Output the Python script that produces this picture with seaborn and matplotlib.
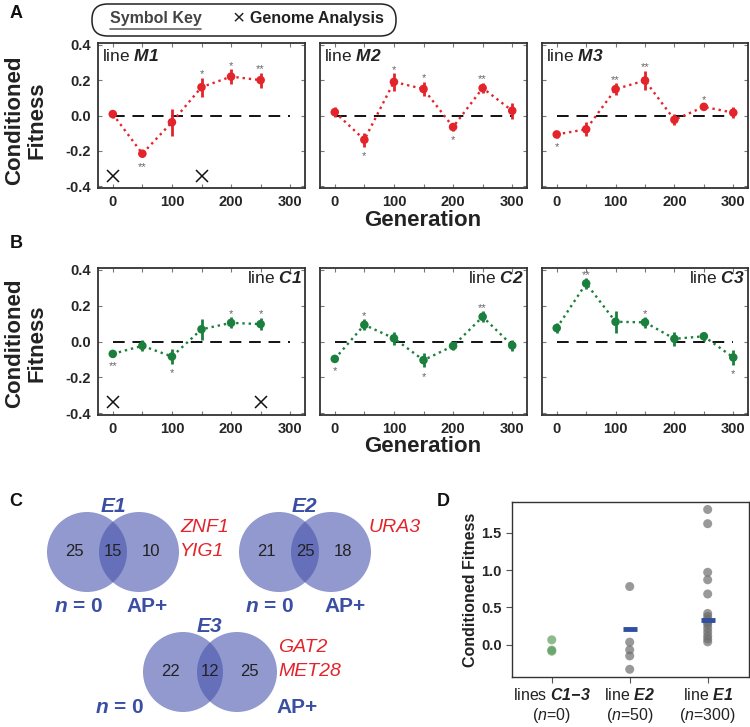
import matplotlib

matplotlib.use("Agg")
import matplotlib.pyplot as plt
import numpy as np
import pandas as pd
import seaborn as sns
from matplotlib.lines import Line2D
from matplotlib.patches import Circle, FancyBboxPatch


# panels A and B: conditioned fitness across generations
GENERATIONS = [0, 50, 100, 150, 200, 250, 300]

M1_FIT = [0.008, -0.216, -0.038, 0.160, 0.220, 0.200, np.nan]
M1_ERR = [0.020, 0.020, 0.076, 0.053, 0.043, 0.043, np.nan]
M1_SIG = ["", "**", "", "*", "*", "**", ""]
M2_FIT = [0.019, -0.137, 0.190, 0.150, -0.065, 0.155, 0.027]
M2_ERR = [0.030, 0.040, 0.050, 0.040, 0.020, 0.030, 0.045]
M2_SIG = ["", "*", "*", "*", "*", "**", ""]
M3_FIT = [-0.107, -0.078, 0.149, 0.198, -0.024, 0.049, 0.016]
M3_ERR = [0.020, 0.040, 0.035, 0.055, 0.030, 0.020, 0.030]
M3_SIG = ["*", "", "**", "**", "", "*", ""]

C1_FIT = [-0.069, -0.024, -0.084, 0.068, 0.104, 0.097, np.nan]
C1_ERR = [0.015, 0.030, 0.040, 0.057, 0.030, 0.035, np.nan]
C1_SIG = ["**", "", "*", "", "*", "*", ""]
C2_FIT = [-0.097, 0.093, 0.018, -0.104, -0.025, 0.138, -0.022]
C2_ERR = [0.015, 0.030, 0.035, 0.040, 0.025, 0.030, 0.030]
C2_SIG = ["*", "*", "", "*", "", "**", ""]
C3_FIT = [0.075, 0.324, 0.110, 0.107, 0.015, 0.029, -0.089]
C3_ERR = [0.030, 0.030, 0.060, 0.030, 0.040, 0.025, 0.040]
C3_SIG = ["", "**", "", "*", "", "", "*"]

M1_GENOME = [0, 150]
C1_GENOME = [0, 250]
GENOME_MARK_Y = -0.34

# panel C: venn counts
VENN_NAMES = ["E1", "E2", "E3"]
VENN_LEFT = [25, 21, 22]
VENN_SHARED = [15, 25, 12]
VENN_RIGHT = [10, 18, 25]
VENN_GENES = [["ZNF1", "YIG1"], ["URA3"], ["GAT2", "MET28"]]

# panel D: conditioned fitness of evolved lines
D_GROUPS = ["C1-3", "E2", "E1"]
D_C13 = [0.067, -0.070, -0.085]
D_E2 = [0.780, 0.036, -0.067, -0.148, -0.327]
D_E1 = [1.81, 1.62, 0.97, 0.87, 0.68, 0.42, 0.38, 0.34, 0.30, 0.27,
        0.22, 0.17, 0.12, 0.08, 0.04]
D_MEANS = [np.nan, 0.215, 0.330]

RED = "#e3242b"
GREEN = "#1b7f3e"
BLUE = "#3a4fa3"
W, H = 750, 727

sns.set_theme(style="ticks")
plt.rcParams["font.family"] = ["Liberation Sans", "DejaVu Sans"]
plt.rcParams["mathtext.fontset"] = "custom"
plt.rcParams["mathtext.rm"] = "Liberation Sans"
plt.rcParams["mathtext.it"] = "Liberation Sans:italic"
plt.rcParams["mathtext.bf"] = "Liberation Sans:bold:italic"


def px_rect(left, top, right, bottom):
    return [left / W, 1 - bottom / H, (right - left) / W, (bottom - top) / H]


def draw_line_panel(ax, title, fit, err, sig, color, genome, title_right, show_y):
    frame = pd.DataFrame({"generation": GENERATIONS, "fitness": fit,
                          "err": err, "sig": sig}).dropna()
    ax.hlines(0, 0, 300, colors="#111111", linestyles=(0, (6, 4)), lw=1.4, zorder=1)
    sns.lineplot(data=frame, x="generation", y="fitness", ax=ax, color=color,
                 lw=1.7, linestyle=":", zorder=2)
    ax.errorbar(frame["generation"], frame["fitness"], yerr=frame["err"],
                fmt="none", ecolor=color, elinewidth=2, zorder=3)
    sns.scatterplot(data=frame, x="generation", y="fitness", ax=ax, color=color,
                    s=38, edgecolor="none", zorder=4)
    for _, row in frame.iterrows():
        if not row["sig"]:
            continue
        if row["fitness"] > 0:
            y = row["fitness"] + row["err"] + 0.002
        else:
            y = row["fitness"] - row["err"] - 0.07
        ax.text(row["generation"], y, row["sig"], ha="center", va="baseline",
                fontsize=8, color="#666666")
    if genome:
        ax.plot(genome, [GENOME_MARK_Y] * len(genome), ls="none", marker="x",
                ms=9, mew=1.1, color="#111111")

    ax.set_xlim(-25, 325)
    ax.set_ylim(-0.41, 0.41)
    ax.set_xticks([0, 100, 200, 300])
    ax.set_xticks([50, 150, 250], minor=True)
    ax.set_xticklabels(["0", "100", "200", "300"], fontsize=10.5, fontweight="bold")
    ax.set_yticks([-0.4, -0.2, 0.0, 0.2, 0.4])
    if show_y:
        ax.set_yticklabels([f"{v:.1f}" for v in [-0.4, -0.2, 0.0, 0.2, 0.4]],
                           fontsize=10.5, fontweight="bold")
    else:
        ax.set_yticklabels([])
    ax.tick_params(which="both", direction="in", length=3, width=0.8,
                   color="#777777", top=True, right=True, pad=5)
    ax.set_xlabel("")
    ax.set_ylabel("")
    for spine in ax.spines.values():
        spine.set_color("#333333")
        spine.set_linewidth(1.3)
    if title_right:
        ax.text(0.985, 0.93, f"line $\\mathbf{{{title}}}$", transform=ax.transAxes,
                ha="right", va="center", fontsize=12.5, color="#222222")
    else:
        ax.text(0.02, 0.91, f"line $\\mathbf{{{title}}}$", transform=ax.transAxes,
                ha="left", va="center", fontsize=12.5, color="#222222")


fig = plt.figure(figsize=(7.5, 7.27), dpi=100)

# panel A
col_x = [(98, 305), (320, 527), (542, 748)]
m_data = [("M1", M1_FIT, M1_ERR, M1_SIG, M1_GENOME),
          ("M2", M2_FIT, M2_ERR, M2_SIG, None),
          ("M3", M3_FIT, M3_ERR, M3_SIG, None)]
for i, (name, fit, err, sig, genome) in enumerate(m_data):
    ax = fig.add_axes(px_rect(col_x[i][0], 43, col_x[i][1], 188))
    draw_line_panel(ax, name, fit, err, sig, RED, genome, False, i == 0)

# panel B
c_data = [("C1", C1_FIT, C1_ERR, C1_SIG, C1_GENOME),
          ("C2", C2_FIT, C2_ERR, C2_SIG, None),
          ("C3", C3_FIT, C3_ERR, C3_SIG, None)]
for i, (name, fit, err, sig, genome) in enumerate(c_data):
    ax = fig.add_axes(px_rect(col_x[i][0], 268, col_x[i][1], 415))
    draw_line_panel(ax, name, fit, err, sig, GREEN, genome, True, i == 0)

for y_mid, y_gen in [(120, 220), (343, 447)]:
    fig.text(26 / W, 1 - y_mid / H, "Conditioned\nFitness", rotation=90,
             ha="center", va="center", fontsize=16, fontweight="bold",
             color="#222222", linespacing=1.05)
    fig.text(423 / W, 1 - y_gen / H, "Generation", ha="center", va="center",
             fontsize=16, fontweight="bold", color="#222222")

# symbol key
fig.patches.append(FancyBboxPatch((92 / W, 1 - 36 / H), 304 / W, 32 / H,
                                  boxstyle="round,pad=0,rounding_size=0.021",
                                  transform=fig.transFigure, facecolor="white",
                                  edgecolor="#222222", lw=1.1))
fig.text(110 / W, 1 - 19 / H, "Symbol Key", ha="left", va="center",
         fontsize=11.5, fontweight="bold", color="#444444")
fig.lines.append(Line2D([110 / W, 201 / W], [1 - 29 / H, 1 - 29 / H],
                        transform=fig.transFigure, color="#666666", lw=1.2))
fig.text(239 / W, 1 - 19 / H, "×", ha="center", va="center", fontsize=15,
         color="#222222")
fig.text(250 / W, 1 - 19 / H, "Genome Analysis", ha="left", va="center",
         fontsize=11.5, fontweight="bold", color="#222222")

# panel C: venn diagrams in pixel space
ax_c = fig.add_axes([0, 0, 0.56, 0.34])
ax_c.set_xlim(0, 0.56 * W)
ax_c.set_ylim(H, H - 0.34 * H)
ax_c.set_axis_off()
venn_left_cx = [87, 279, 183]
venn_cy = [552, 552, 672]
venn_sep = [52, 52, 54]
venn_n_pos = [(-8, 55), (-9, 55), (-63, 36)]
venn_ap_pos = [(8, 55), (14, 55), (60, 36)]
venn_gene_dx = [93, 90, 95]
radius = 40
for k in range(len(VENN_NAMES)):
    cx, cy, sep = venn_left_cx[k], venn_cy[k], venn_sep[k]
    for x in (cx, cx + sep):
        ax_c.add_patch(Circle((x, cy), radius, facecolor="#4a55ae", alpha=0.6,
                              edgecolor="none"))
    for dx, value in [(-13, VENN_LEFT[k]), (sep / 2, VENN_SHARED[k]),
                      (sep + 12, VENN_RIGHT[k])]:
        ax_c.text(cx + dx, cy, str(value), ha="center", va="center",
                  fontsize=12, color="#222222")
    ax_c.text(cx + sep / 2, cy - 45, f"$\\mathbf{{{VENN_NAMES[k]}}}$",
              ha="center", va="center", fontsize=15, color=BLUE)
    ax_c.text(cx + venn_n_pos[k][0], cy + venn_n_pos[k][1], "$\\mathbf{n}$ = 0",
              ha="center", va="center", fontsize=15, fontweight="bold", color=BLUE)
    ax_c.text(cx + sep + venn_ap_pos[k][0], cy + venn_ap_pos[k][1], "AP+",
              ha="center", va="center", fontsize=15, fontweight="bold", color=BLUE)
    for j, gene in enumerate(VENN_GENES[k]):
        ax_c.text(cx + venn_gene_dx[k], cy - 24 + 24 * j, gene, ha="left",
                  va="center", fontsize=14, style="italic", color=RED)

# panel D
d_frame = pd.DataFrame({
    "group": ["C1-3"] * len(D_C13) + ["E2"] * len(D_E2) + ["E1"] * len(D_E1),
    "fitness": D_C13 + D_E2 + D_E1,
})
ax_d = fig.add_axes(px_rect(512, 502, 749, 677))
sns.stripplot(data=d_frame, x="group", y="fitness", order=D_GROUPS, hue="group",
              palette={"C1-3": "#5e9e5e", "E2": "#6e6e6e", "E1": "#6e6e6e"},
              jitter=False, size=6.5, alpha=0.7, linewidth=0, legend=False, ax=ax_d)
for i, m in enumerate(D_MEANS):
    if not np.isnan(m):
        ax_d.hlines(m, i - 0.09, i + 0.09, colors="#2f4fa0", lw=3.5, zorder=5)
ax_d.set_xlim(-0.51, 2.53)
ax_d.set_ylim(-0.43, 1.91)
ax_d.set_yticks([0.0, 0.5, 1.0, 1.5])
ax_d.set_yticklabels(["0.0", "0.5", "1.0", "1.5"], fontsize=10.5, fontweight="bold")
ax_d.set_xticks([0, 1, 2])
ax_d.set_xticklabels(["lines $\\mathbf{C1{-}3}$\n($\\mathit{n}$=0)",
                      "line $\\mathbf{E2}$\n($\\mathit{n}$=50)",
                      "line $\\mathbf{E1}$\n($\\mathit{n}$=300)"],
                     fontsize=11.5, color="#222222")
ax_d.set_xlabel("")
ax_d.set_ylabel("Conditioned Fitness", fontsize=11.5, fontweight="bold",
                color="#222222", labelpad=2)
ax_d.tick_params(length=4, width=0.8, color="#555555")
for spine in ax_d.spines.values():
    spine.set_visible(True)
    spine.set_color("#333333")
    spine.set_linewidth(1.0)

for label, x, y in [("A", 16, 14), ("B", 16, 243), ("C", 16, 502), ("D", 443, 502)]:
    fig.text(x / W, 1 - y / H, label, ha="center", va="center", fontsize=13,
             fontweight="bold", color="#111111")

fig.savefig("out.png", dpi=100)
plt.close(fig)
